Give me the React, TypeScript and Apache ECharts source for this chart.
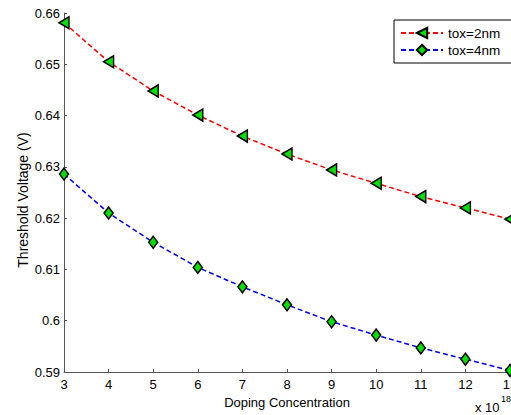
import React, { useEffect, useRef } from "react";
import * as echarts from "echarts";

const dopingX = [3, 4, 5, 6, 7, 8, 9, 10, 11, 12, 13];
const tox2nm = [0.6581, 0.6505, 0.6448, 0.6401, 0.6360, 0.6325, 0.6294, 0.6268, 0.6242, 0.6220, 0.6198];
const tox4nm = [0.6286, 0.6210, 0.6153, 0.6104, 0.6066, 0.6031, 0.5998, 0.5972, 0.5947, 0.5925, 0.5903];
const seriesNames = ["tox=2nm", "tox=4nm"];

const FONT = "'Liberation Sans', Arial, Helvetica, sans-serif";
const AXIS_COLOR = "#555";
const GREEN = "#00e000";
const TRI_LEFT = "path://M0,5 L10,0 L10,10 Z";

export default function App() {
  const ref = useRef<HTMLDivElement>(null);
  useEffect(() => {
    if (!ref.current) return;
    const chart = echarts.init(ref.current, undefined, { renderer: "svg" });
    const pair = (ys: number[]) => dopingX.map((x, i) => [x, ys[i]]);
    chart.setOption({
      animation: false,
      backgroundColor: "#fff",
      textStyle: { fontFamily: FONT },
      grid: {
        left: 64,
        right: 1,
        top: 13,
        bottom: 43,
        containLabel: false,
        outerBoundsMode: "none",
      },
      legend: {
        orient: "vertical",
        left: 394,
        top: 20,
        padding: [6, 12, 6, 6],
        itemGap: 3,
        itemWidth: 42,
        itemHeight: 13,
        borderColor: "#000",
        borderWidth: 1,
        backgroundColor: "#fff",
        textStyle: { fontSize: 13.5, color: "#000", fontFamily: FONT },
        data: seriesNames,
      },
      xAxis: {
        type: "value",
        min: 3,
        max: 13,
        interval: 1,
        name: "Doping Concentration",
        nameLocation: "middle",
        nameGap: 24,
        nameTextStyle: { fontSize: 13, color: "#000", fontFamily: FONT },
        axisLine: { lineStyle: { color: AXIS_COLOR, width: 1 } },
        axisTick: { inside: true, length: 3, lineStyle: { color: AXIS_COLOR } },
        axisLabel: { fontSize: 13, color: "#000", margin: 6, fontFamily: FONT },
        splitLine: { show: false },
      },
      yAxis: {
        type: "value",
        min: 0.59,
        max: 0.66,
        interval: 0.01,
        axisLine: { show: true, lineStyle: { color: AXIS_COLOR, width: 1 } },
        axisTick: { show: true, inside: true, length: 3, lineStyle: { color: AXIS_COLOR } },
        axisLabel: {
          fontSize: 13,
          color: "#000",
          margin: 4,
          fontFamily: FONT,
          formatter: (v: number) => String(parseFloat(v.toFixed(2))),
        },
        splitLine: { show: false },
      },
      series: [
        {
          name: seriesNames[0],
          type: "line",
          data: pair(tox2nm),
          clip: false,
          symbol: TRI_LEFT,
          symbolSize: [10, 12],
          itemStyle: { color: GREEN, borderColor: "#000", borderWidth: 1.5 },
          lineStyle: { color: "#ff0000", width: 1.5, type: [5, 3] },
          z: 3,
        },
        {
          name: seriesNames[1],
          type: "line",
          data: pair(tox4nm),
          clip: false,
          symbol: "diamond",
          symbolSize: [9, 12],
          itemStyle: { color: GREEN, borderColor: "#000", borderWidth: 1.5 },
          lineStyle: { color: "#0000ff", width: 1.5, type: [5, 3] },
          z: 3,
        },
      ],
      graphic: [
        {
          type: "text",
          x: 23,
          y: 200,
          rotation: Math.PI / 2,
          style: {
            text: "Threshold Voltage (V)",
            fontSize: 14,
            fill: "#000",
            fontFamily: FONT,
            textAlign: "center",
            textVerticalAlign: "middle",
          },
        },
        {
          type: "text",
          left: 475,
          top: 401,
          style: { text: "x 10", fontSize: 13, fill: "#000", fontFamily: FONT },
        },
        {
          type: "text",
          left: 501,
          top: 394,
          style: { text: "18", fontSize: 9, fill: "#000", fontFamily: FONT },
        },
      ],
    });
    return () => chart.dispose();
  }, []);
  return (
    <div
      ref={ref}
      style={{ position: "fixed", left: 0, top: 0, width: 511, height: 415, background: "#fff" }}
    />
  );
}
